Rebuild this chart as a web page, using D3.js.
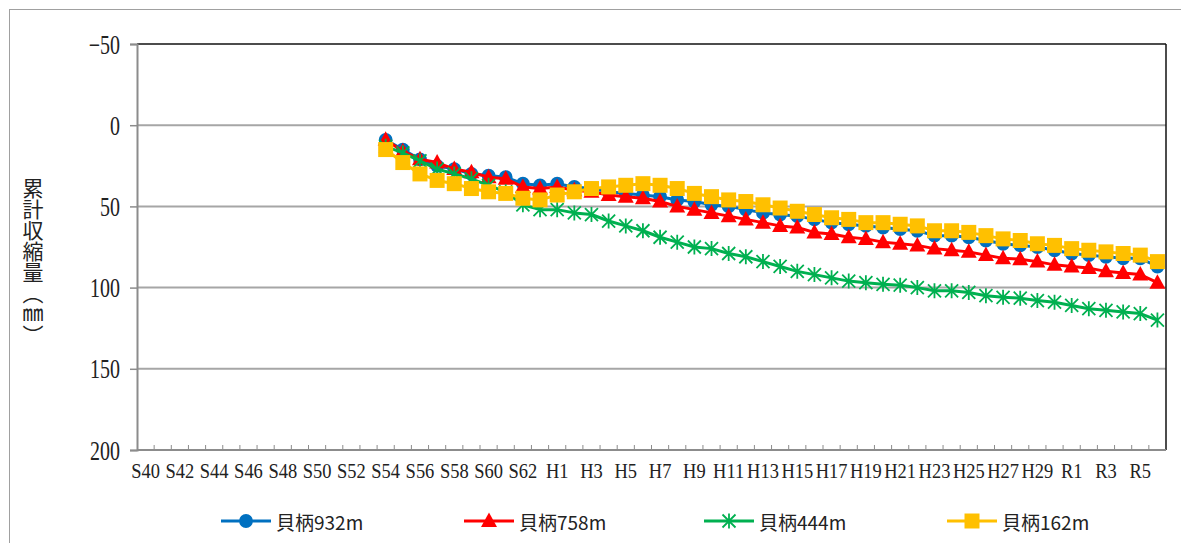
<!DOCTYPE html>
<html>
<head>
<meta charset="utf-8">
<script src="https://cdn.jsdelivr.net/npm/d3@7"></script>
<style>
  html, body { margin: 0; padding: 0; background: #fff; }
  svg { display: block; }
  .num { font-family: "Liberation Serif", "DejaVu Serif", serif; fill: #222; }
  .jp { font-family: "Noto Sans CJK JP", sans-serif; fill: #222; }
</style>
</head>
<body>
<svg id="chart" width="1181" height="543"></svg>
<script>
// Fiscal-year categories: Showa 40–63, Heisei 1–30, Reiwa 1–6
const categories = [
  "S40","S41","S42","S43","S44","S45","S46","S47","S48","S49","S50","S51",
  "S52","S53","S54","S55","S56","S57","S58","S59","S60","S61","S62","S63",
  "H1","H2","H3","H4","H5","H6","H7","H8","H9","H10","H11","H12","H13","H14",
  "H15","H16","H17","H18","H19","H20","H21","H22","H23","H24","H25","H26",
  "H27","H28","H29","H30","R1","R2","R3","R4","R5","R6"
];
// Only every other year is labelled
const tickLabels = categories.filter((d, i) => i % 2 === 0);
const yTicks = [-50, 0, 50, 100, 150, 200];

// Measurements begin at S54
const firstYear = "S54";

// Cumulative shrinkage (mm) from S54 to R6
const kaiei932 = [
  9, 15, 21, 25, 27, 30, 31, 32, 36, 37,
  36, 38, 39, 41, 42, 43, 44, 46, 47, 49, 50, 52, 54, 55, 56, 58, 60, 61, 62, 63,
  64, 65, 68, 68, 69, 71, 73, 74, 75, 77,
  79, 80, 81, 82, 82, 87
];
const kaiei758 = [
  9, 16, 21, 23, 27, 29, 32, 33, 38, 39,
  38, 40, 41, 43, 44, 45, 47, 50, 52, 54, 56, 58, 60, 62, 63, 66, 67, 69, 70, 72,
  73, 74, 76, 77, 78, 80, 82, 82.5, 84, 86,
  87, 88, 90, 91, 92, 97
];
const kaiei444 = [
  13, 17, 22, 27, 30, 33, 37, 41, 49, 52,
  52, 54, 55, 59, 62, 65, 69, 72, 75, 76, 79, 81, 84, 87, 90, 92, 94, 96, 97, 98,
  98.5, 100, 102, 102, 103, 105, 106, 106.5, 108, 109,
  111, 113, 114, 115, 116, 120
];
const kaiei162 = [
  15, 23, 30, 34, 36, 39, 41, 42, 45, 46,
  43, 41, 39, 38, 37, 36, 37, 39, 42, 44, 46, 47, 49, 51, 53, 55, 57, 58, 60, 60,
  61, 62, 65, 65, 66, 68, 70, 71, 73, 74,
  76, 77, 78, 79, 80, 84
];

const seriesNames = ["貝柄932m", "貝柄758m", "貝柄444m", "貝柄162m"];
const seriesColors = ["#0070C0", "#FF0000", "#00B050", "#FFC000"];
const seriesMarkers = ["circle", "triangle", "star", "square"];
const seriesValues = [kaiei932, kaiei758, kaiei444, kaiei162];

const svg = d3.select("#chart");

// Chart area frame
svg.append("rect")
  .attr("x", 9.5).attr("y", 9.5).attr("width", 1200).attr("height", 600)
  .attr("fill", "none").attr("stroke", "#a0a0a0").attr("stroke-width", 1);

const plot = { left: 137, right: 1166, top: 44, bottom: 450 };

const x = d3.scaleBand().domain(categories).range([plot.left, plot.right]).padding(0);
const cx = d => x(d) + x.bandwidth() / 2;
const y = d3.scaleLinear().domain([-50, 200]).range([plot.top, plot.bottom]);

// Horizontal gridlines
svg.append("g")
  .selectAll("line")
  .data(yTicks.filter(v => v !== -50 && v !== 200))
  .join("line")
  .attr("x1", plot.left).attr("x2", plot.right)
  .attr("y1", d => y(d)).attr("y2", d => y(d))
  .attr("stroke", "#a6a6a6").attr("stroke-width", 2);

// Plot frame top and right
svg.append("line")
  .attr("x1", plot.left).attr("x2", plot.right)
  .attr("y1", y(-50)).attr("y2", y(-50))
  .attr("stroke", "#111").attr("stroke-width", 1.5);
svg.append("line")
  .attr("x1", plot.right).attr("x2", plot.right)
  .attr("y1", y(-50)).attr("y2", y(200))
  .attr("stroke", "#111").attr("stroke-width", 1.5);

// Y axis
const yAxis = svg.append("g")
  .attr("transform", `translate(${plot.left},0)`)
  .call(d3.axisLeft(y).tickValues(yTicks).tickSize(7).tickPadding(0).tickFormat(d => d < 0 ? "−" + Math.abs(d) : d));
yAxis.select(".domain").attr("stroke", "#8c8c8c").attr("stroke-width", 2);
yAxis.selectAll(".tick line").attr("stroke", "#8c8c8c").attr("stroke-width", 1.5);
yAxis.selectAll(".tick text")
  .attr("class", "num")
  .attr("font-size", 27)
  .attr("x", 0).attr("dy", 0)
  .attr("dominant-baseline", "central")
  .attr("text-anchor", "end")
  .attr("transform", "translate(-17,0) scale(0.74,1)");

// X axis line
svg.append("line")
  .attr("x1", plot.left).attr("x2", plot.right)
  .attr("y1", y(200)).attr("y2", y(200))
  .attr("stroke", "#8c8c8c").attr("stroke-width", 2);

// Category boundary ticks, pointing into the plot
svg.append("g")
  .selectAll("line")
  .data(categories.slice(1))
  .join("line")
  .attr("x1", d => x(d)).attr("x2", d => x(d))
  .attr("y1", y(200)).attr("y2", y(200) - 5)
  .attr("stroke", "#8c8c8c").attr("stroke-width", 1);

// X tick labels
svg.append("g")
  .selectAll("text")
  .data(tickLabels)
  .join("text")
  .attr("class", "num")
  .attr("font-size", 21)
  .attr("text-anchor", "middle")
  .attr("transform", d => `translate(${cx(d)},${y(200) + 28}) scale(0.88,1)`)
  .text(d => d);

// Y axis title, written vertically
svg.append("text")
  .attr("class", "jp")
  .attr("x", 33).attr("y", 178)
  .attr("font-size", 21)
  .style("writing-mode", "vertical-rl")
  .text("累計収縮量（㎜）");

// Marker shapes
function markerPath(type) {
  if (type === "circle") return d3.symbol(d3.symbolCircle, 150)();
  if (type === "triangle") return "M0,-8.5L8,6L-8,6Z";
  if (type === "square") return "M-7.5,-7.5H7.5V7.5H-7.5Z";
  if (type === "star") return "M0,-7.5V7.5M-6.5,-6.5L6.5,6.5M6.5,-6.5L-6.5,6.5";
  return "";
}

const startIdx = categories.indexOf(firstYear);
const line = d3.line().x(d => cx(d.cat)).y(d => y(d.v));

seriesValues.forEach((vals, s) => {
  const pts = vals.map((v, i) => ({ cat: categories[startIdx + i], v }));
  const g = svg.append("g");
  g.append("path")
    .datum(pts)
    .attr("d", line)
    .attr("fill", "none")
    .attr("stroke", seriesColors[s])
    .attr("stroke-width", 3)
    .attr("stroke-linejoin", "round");
  const isStar = seriesMarkers[s] === "star";
  g.selectAll(".mk")
    .data(pts)
    .join("path")
    .attr("class", "mk")
    .attr("transform", d => `translate(${cx(d.cat)},${y(d.v)})`)
    .attr("d", markerPath(seriesMarkers[s]))
    .attr("fill", isStar ? "none" : seriesColors[s])
    .attr("stroke", seriesColors[s])
    .attr("stroke-width", isStar ? 1.8 : 0);
});

// Legend
const legendY = 521;
const legendX = [221, 464, 704, 947];
const legend = svg.append("g");
seriesNames.forEach((name, s) => {
  const g = legend.append("g").attr("transform", `translate(${legendX[s]},${legendY})`);
  g.append("line")
    .attr("x1", 0).attr("x2", 50).attr("y1", 0).attr("y2", 0)
    .attr("stroke", seriesColors[s]).attr("stroke-width", 3);
  const isStar = seriesMarkers[s] === "star";
  g.append("path")
    .attr("transform", "translate(25,0)")
    .attr("d", markerPath(seriesMarkers[s]))
    .attr("fill", isStar ? "none" : seriesColors[s])
    .attr("stroke", seriesColors[s])
    .attr("stroke-width", isStar ? 1.8 : 0);
  g.append("text")
    .attr("class", "jp")
    .attr("x", 55).attr("y", 0)
    .attr("dominant-baseline", "central")
    .attr("font-size", 19)
    .text(name);
});
</script>
</body>
</html>
